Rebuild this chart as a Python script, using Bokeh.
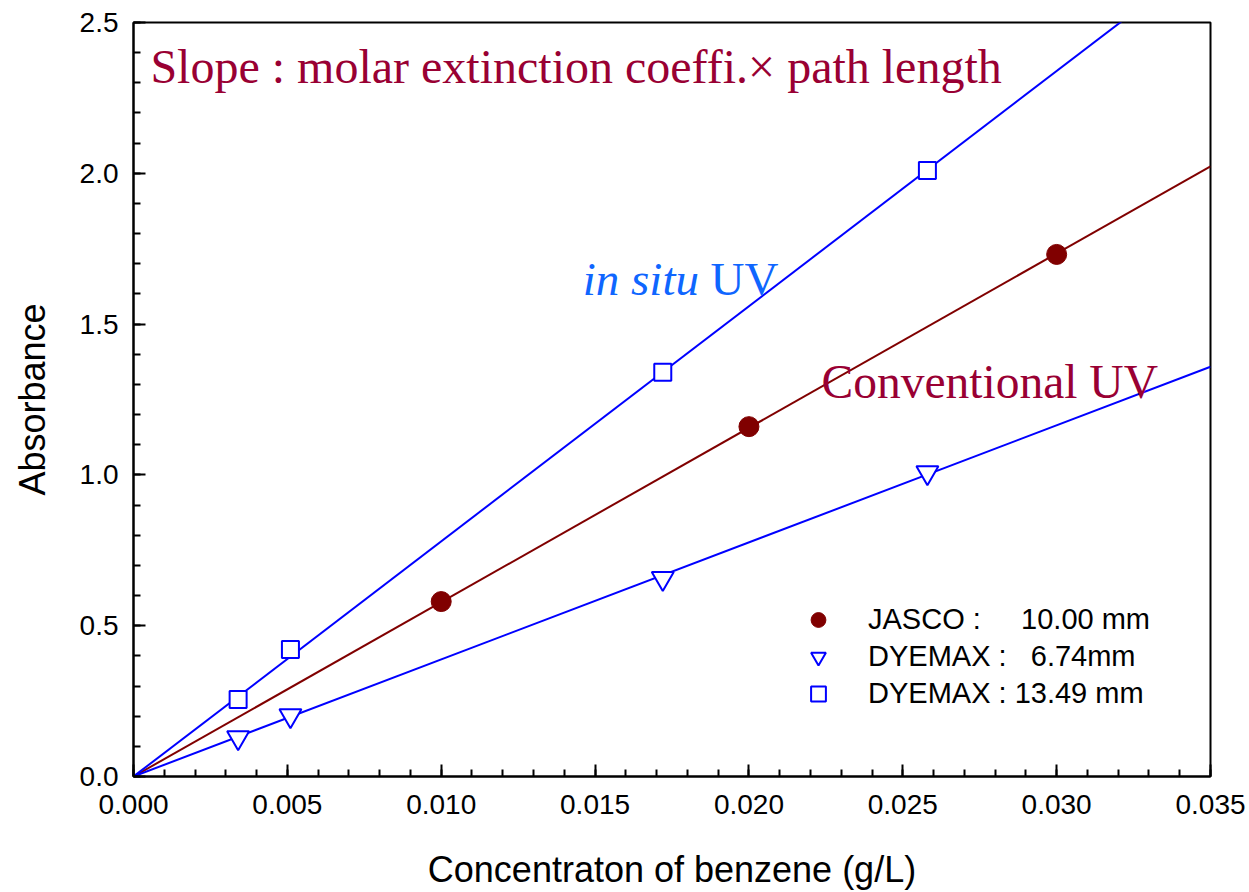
import numpy as np
from bokeh.plotting import figure
from bokeh.models import (Label, Legend, LegendItem, FixedTicker, NumeralTickFormatter,
                          Range1d)
from bokeh.embed import file_html
from bokeh.resources import INLINE

# ---- data ----
conc_jasco = [0.010, 0.020, 0.030]
abs_jasco = [0.580, 1.160, 1.731]

conc_dyemax = [0.0034, 0.0051, 0.0172, 0.0258]
abs_dyemax_674 = [0.129, 0.202, 0.657, 1.008]
abs_dyemax_1349 = [0.255, 0.421, 1.340, 2.009]

x_ticks = [0.000, 0.005, 0.010, 0.015, 0.020, 0.025, 0.030, 0.035]
y_ticks = [0.0, 0.5, 1.0, 1.5, 2.0, 2.5]

legend_labels = ["JASCO :\u00a0\u00a0\u00a0\u00a0\u00a010.00 mm",
                 "DYEMAX :\u00a0\u00a0\u00a06.74mm",
                 "DYEMAX : 13.49 mm"]

X_MAX = x_ticks[-1]
Y_MAX = y_ticks[-1]

MAROON = "#800000"
BLUE = "#0000FF"
CRIMSON = "#990033"
LIGHTBLUE = "#0F66FF"
SANS = "Liberation Sans"
SERIF = "Liberation Serif"


def slope_through_origin(x, y):
    x = np.asarray(x, float)
    y = np.asarray(y, float)
    return float((x * y).sum() / (x * x).sum())


p = figure(width=1249, height=892, output_backend="svg", toolbar_location=None,
           x_range=Range1d(0, X_MAX), y_range=Range1d(0, Y_MAX),
           min_border_left=133, min_border_right=39, min_border_top=22,
           min_border_bottom=116)
p.grid.visible = False
p.outline_line_color = "black"
p.outline_line_width = 2
p.background_fill_color = "white"
p.border_fill_color = "white"

# fitted lines
xs_line = [0.0, X_MAX]
for xd, yd, col in [(conc_jasco, abs_jasco, MAROON),
                    (conc_dyemax, abs_dyemax_674, BLUE),
                    (conc_dyemax, abs_dyemax_1349, BLUE)]:
    k = slope_through_origin(xd, yd)
    p.line(xs_line, [k * v for v in xs_line], line_color=col, line_width=2)

r_jasco = p.scatter(conc_jasco, abs_jasco, marker="circle", size=20,
                    fill_color=MAROON, line_color=MAROON)
r_674 = p.scatter(conc_dyemax, abs_dyemax_674, marker="inverted_triangle", size=22,
                  fill_color="white", line_color=BLUE, line_width=2)
r_1349 = p.scatter(conc_dyemax, abs_dyemax_1349, marker="square", size=17,
                   fill_color="white", line_color=BLUE, line_width=2)

# axes
p.xaxis.ticker = FixedTicker(ticks=x_ticks,
                             minor_ticks=[i * 0.001 for i in range(36)])
p.yaxis.ticker = FixedTicker(ticks=y_ticks,
                             minor_ticks=[i * 0.1 for i in range(26)])
p.xaxis.formatter = NumeralTickFormatter(format="0.000")
p.yaxis.formatter = NumeralTickFormatter(format="0.0")
for ax in (p.xaxis[0], p.yaxis[0]):
    ax.axis_line_width = 2
    ax.major_tick_line_width = 2
    ax.minor_tick_line_width = 2
    ax.major_tick_in = 12
    ax.major_tick_out = 0
    ax.minor_tick_in = 7
    ax.minor_tick_out = 0
    ax.major_label_text_font = SANS
    ax.major_label_text_font_size = "28px"
    ax.major_label_text_color = "black"
    ax.axis_label_text_font = SANS
    ax.axis_label_text_font_size = "36px"
    ax.axis_label_text_font_style = "normal"
    ax.axis_label_text_color = "black"
p.xaxis.axis_label = "Concentraton of benzene (g/L)"
p.yaxis.axis_label = "Absorbance"
p.xaxis.major_label_standoff = 18
p.yaxis.major_label_standoff = 15
p.xaxis.axis_label_standoff = 32
p.yaxis.axis_label_standoff = 24

# annotations
p.add_layout(Label(x=0.00055, y=2.354, text="Slope : molar extinction coeffi.\u00d7 path length",
                   text_font=SERIF, text_font_size="48px", text_color=CRIMSON,
                   text_baseline="alphabetic"))
p.add_layout(Label(x=0.0146, y=1.650, text="in situ",
                   text_font=SERIF, text_font_size="47px", text_font_style="italic",
                   text_color=LIGHTBLUE, text_baseline="alphabetic"))
p.add_layout(Label(x=0.01875, y=1.650, text="UV",
                   text_font=SERIF, text_font_size="47px",
                   text_color=LIGHTBLUE, text_baseline="alphabetic"))
p.add_layout(Label(x=0.02236, y=1.309, text="Conventional UV",
                   text_font=SERIF, text_font_size="47.5px", text_color=CRIMSON,
                   text_baseline="alphabetic"))

legend = Legend(items=[LegendItem(label=legend_labels[0], renderers=[r_jasco]),
                       LegendItem(label=legend_labels[1], renderers=[r_674]),
                       LegendItem(label=legend_labels[2], renderers=[r_1349])],
                location=(665, 64), orientation="vertical",
                glyph_width=40, glyph_height=37, spacing=0, label_standoff=30,
                padding=0, margin=0, border_line_color=None,
                background_fill_alpha=0,
                label_text_font=SANS, label_text_font_size="29px",
                label_text_color="black")
p.add_layout(legend)

open("out.html", "w").write(file_html(p, INLINE))
